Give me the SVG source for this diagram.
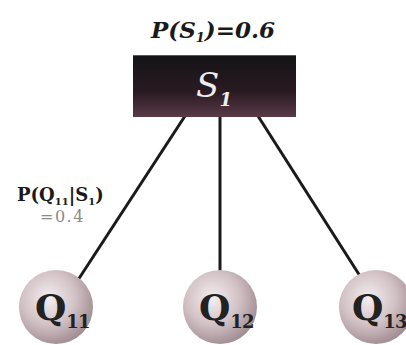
<svg xmlns="http://www.w3.org/2000/svg" width="406" height="345" viewBox="0 0 406 345">
<defs>
<linearGradient id="box" x1="0" y1="0" x2="0" y2="1">
<stop offset="0" stop-color="#141416"/>
<stop offset="0.6" stop-color="#2a1a22"/>
<stop offset="1" stop-color="#5a3a48"/>
</linearGradient>
<radialGradient id="ball" cx="0.4" cy="0.38" r="0.65">
<stop offset="0" stop-color="#f4eef0"/>
<stop offset="0.55" stop-color="#d2c2c6"/>
<stop offset="1" stop-color="#a08c92"/>
</radialGradient>
<style>
.edge{stroke:#1a1a1a;stroke-width:3;fill:none}
.ball{fill:url(#ball)}
.q{font-family:"DejaVu Serif","Liberation Serif",serif;font-weight:bold;fill:#222;font-size:36px}
.sub{font-size:18px;letter-spacing:-1px}
.title{font-family:"DejaVu Serif","Liberation Serif",serif;font-weight:bold;font-style:italic;font-size:23px;fill:#1a1a1a}
.sname{font-family:"DejaVu Serif","Liberation Serif",serif;font-style:italic;font-size:34px;fill:#f0ecee}
.lab{font-family:"DejaVu Serif","Liberation Serif",serif;font-weight:bold;font-size:18px;fill:#1a1a1a}
.val{font-family:"DejaVu Serif","Liberation Serif",serif;font-size:16px;fill:#8a8a8a;letter-spacing:1.5px}
</style>
</defs>
<rect width="406" height="345" fill="#ffffff"/>
<text class="title" x="213" y="38" text-anchor="middle">P(S<tspan font-size="13" dy="4">1</tspan><tspan dy="-4">)=0.6</tspan></text>
<g id="connectors">
<line class="edge" x1="185" y1="116" x2="78" y2="280"/>
<line class="edge" x1="220" y1="116" x2="220" y2="271"/>
<line class="edge" x1="258" y1="116" x2="360" y2="276"/>
</g>
<g id="S1">
<rect x="133" y="55" width="163" height="62" fill="url(#box)"/>
<line x1="133" y1="55.5" x2="296" y2="55.5" stroke="#2f6f60" stroke-width="1"/>
<text class="sname" x="214" y="97" text-anchor="middle">S<tspan font-size="18" font-weight="bold" dy="9">1</tspan></text>
</g>
<g id="label">
<text class="lab" x="17" y="201">P(Q<tspan font-size="10" dy="4">11</tspan><tspan dy="-4">|S</tspan><tspan font-size="10" dy="4">1</tspan><tspan dy="-4">)</tspan></text>
<text class="val" x="40" y="222">=0.4</text>
</g>
<g id="Q11">
<circle class="ball" cx="56" cy="307" r="37"/>
<text class="q" x="35" y="320">Q<tspan class="sub" dy="8">11</tspan></text>
</g>
<g id="Q12">
<circle class="ball" cx="220" cy="307" r="37"/>
<text class="q" x="199" y="320">Q<tspan class="sub" dy="8">12</tspan></text>
</g>
<g id="Q13">
<circle class="ball" cx="376" cy="307" r="37"/>
<text class="q" x="352" y="320">Q<tspan class="sub" dy="8">13</tspan></text>
</g>
</svg>
